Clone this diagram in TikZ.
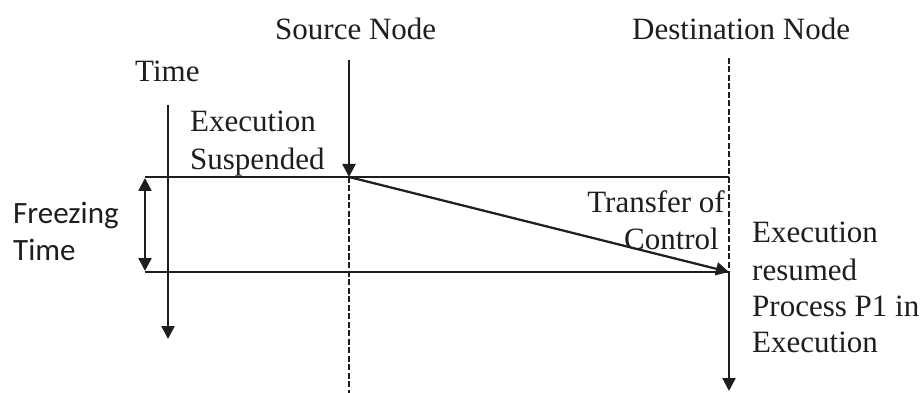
\documentclass[tikz,border=0pt]{standalone}
\usepackage{fontspec}
\setmainfont{Liberation Serif}
\newfontfamily\calfont{Carlito}
\usetikzlibrary{arrows.meta}
\definecolor{ink}{HTML}{1E1E1E}
\begin{document}
\begin{tikzpicture}[x=1pt,y=-1pt,
  lbl/.style={inner sep=0pt,text=ink,font=\fontsize{31}{36}\selectfont},
  sanslbl/.style={inner sep=0pt,text=ink,font=\calfont\fontsize{31}{36}\selectfont},
  solidline/.style={draw=ink,line width=2.3pt},
  dashline/.style={draw=ink,line width=2pt,dash pattern=on 6pt off 2.5pt},
  tip/.style={-{Triangle[length=13pt,width=13pt]}},
  bothtips/.style={{Triangle[length=13pt,width=13pt]}-{Triangle[length=13pt,width=13pt]}}]
\useasboundingbox (0,0) rectangle (922,393);
\fill[white] (0,0) rectangle (922,393);

% headings and labels
\node[lbl,anchor=base west] (src) at (275,40) {Source Node};
\node[lbl,anchor=base west] (dst) at (632,40) {Destination Node};
\node[lbl,anchor=base west] (time) at (135,82) {Time};
\node[lbl,anchor=base west] (exec1) at (190,132) {Execution};
\node[lbl,anchor=base west] (susp) at (190,170) {Suspended};
\node[lbl,anchor=base east] (xfer) at (725,213) {Transfer of};
\node[lbl,anchor=base east] (ctrl) at (719,250) {Control};
\node[lbl,anchor=base west] (res1) at (752,243) {Execution};
\node[lbl,anchor=base west] (res2) at (752,280) {resumed};
\node[lbl,anchor=base west] (res3) at (752,316) {Process P1 in};
\node[lbl,anchor=base west] (res4) at (752,352) {Execution};
\node[sanslbl,anchor=base west] (frz1) at (13,224) {Freezing};
\node[sanslbl,anchor=base west] (frz2) at (13,260) {Time};

% anchor points of the time lines
\coordinate (srcTop) at (349,60);
\coordinate (srcHit) at (349,177);
\coordinate (srcEnd) at (349,393);
\coordinate (dstTop) at (729,58);
\coordinate (dstHit) at (729,272);
\coordinate (dstEnd) at (729,391);
\coordinate (topL) at (145,177);
\coordinate (botL) at (145,272);
\coordinate (timeTop) at (168,105);
\coordinate (timeEnd) at (168,339);
\coordinate (frzTop) at (145,178);
\coordinate (frzBot) at (145,271);

% horizontal bounds of the frozen interval
\draw[solidline] (topL) -- (dstHit |- topL);
\draw[solidline] (botL) -- (dstHit);

% node time lines
\draw[dashline] (srcHit) -- (srcEnd);
\draw[dashline] (dstTop) -- (dstHit);
\draw[solidline,tip] (srcTop) -- (srcHit);
\draw[solidline,tip] (dstHit) -- (dstEnd);

% global time axis and freezing interval
\draw[solidline,tip] (timeTop) -- (timeEnd);
\draw[solidline,bothtips] (frzTop) -- (frzBot);

% transfer of control
\draw[solidline,tip] (srcHit) -- (dstHit);
\end{tikzpicture}
\end{document}
